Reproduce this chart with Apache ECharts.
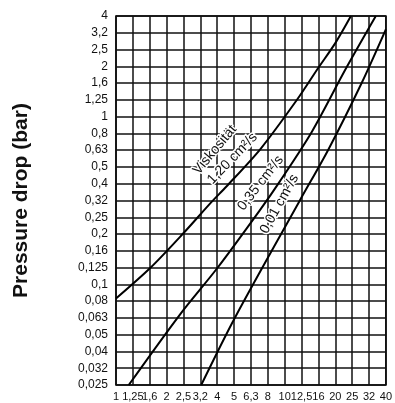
<!DOCTYPE html>
<html>
<head>
<meta charset="utf-8">
<script src="https://cdn.jsdelivr.net/npm/echarts@6/dist/echarts.min.js"></script>
<style>
html, body { margin: 0; padding: 0; background: #fff; }
#chart { width: 395px; height: 403px; }
</style>
</head>
<body>
<div id="chart"></div>
<script>
// tick labels (R10 series, evenly spaced on log scale)
var xLabels = ['1', '1,25', '1,6', '2', '2,5', '3,2', '4', '5', '6,3', '8', '10', '12,5', '16', '20', '25', '32', '40'];
var yLabels = ['0,025', '0,032', '0,04', '0,05', '0,063', '0,08', '0,1', '0,125', '0,16', '0,2', '0,25', '0,32',
    '0,4', '0,5', '0,63', '0,8', '1', '1,25', '1,6', '2', '2,5', '3,2', '4'];

// curves: flow / pressure drop (bar)
var flow120 = [1, 1.6, 2.5, 3.7, 4.5, 7.2, 11.8, 15.8, 20, 24.7];
var dp120 = [0.082, 0.125, 0.2, 0.31, 0.38, 0.64, 1.25, 1.94, 2.74, 3.96];

var flow035 = [1.19, 2.4, 4.0, 7.1, 9.3, 14.5, 22.9, 34.7];
var dp035 = [0.025, 0.066, 0.125, 0.274, 0.405, 0.81, 1.9, 3.96];

var flow001 = [3.2, 5.07, 12.3, 18.1, 28.6, 39.8];
var dp001 = [0.025, 0.063, 0.315, 0.63, 1.58, 3.3];

var curveNames = ['1,20 cm²/s', '0,35 cm²/s', '0,01 cm²/s'];

var Y0 = 0.025;
function xIdx(q) { return 10 * Math.log10(q); }
function yIdx(p) { return 10 * Math.log10(p / Y0); }
function toPoints(xs, ys) {
    return xs.map(function (q, i) { return [xIdx(q), yIdx(ys[i])]; });
}

var FONT = '"Liberation Sans", Arial, sans-serif';
// curve labels sit on a white halo, grid lines stop around them
var labelStyle = {
    show: true,
    position: 'inside',
    color: '#111',
    fontSize: 14,
    fontFamily: FONT,
    textBorderColor: '#fff',
    textBorderWidth: 3
};

function curve(name, pts, marks) {
    return {
        name: name,
        type: 'line',
        data: pts,
        symbol: 'none',
        smooth: 0.3,
        clip: true,
        lineStyle: { color: '#000', width: 2 },
        markPoint: {
            symbol: 'circle',
            symbolSize: 0,
            silent: true,
            label: labelStyle,
            data: marks
        }
    };
}

var chart = echarts.init(document.getElementById('chart'));
var option = {
    backgroundColor: '#fff',
    animation: false,
    grid: {
        left: 116, right: 9, top: 16, bottom: 18,
        show: true, borderColor: '#000', borderWidth: 1.6
    },
    xAxis: {
        type: 'value', min: 0, max: 16, interval: 1,
        axisLine: { show: false },
        axisTick: { show: false },
        splitLine: { show: true, lineStyle: { color: '#111', width: 1.5 } },
        axisLabel: {
            margin: 6, color: '#111', fontSize: 11, fontFamily: FONT,
            formatter: function (v) { return xLabels[Math.round(v)]; }
        }
    },
    yAxis: {
        type: 'value', min: 0, max: 22, interval: 1,
        name: 'Pressure drop (bar)',
        nameLocation: 'middle',
        nameGap: 84,
        nameTextStyle: {
            color: '#111', fontSize: 21, fontWeight: 'bold', fontFamily: FONT
        },
        axisLine: { show: false },
        axisTick: { show: false },
        splitLine: { show: true, lineStyle: { color: '#111', width: 1.5 } },
        axisLabel: {
            margin: 8, color: '#111', fontSize: 12, fontFamily: FONT,
            formatter: function (v) { return yLabels[Math.round(v)]; }
        }
    },
    series: [
        curve(curveNames[0], toPoints(flow120, dp120), [
            { coord: [xIdx(3.86), yIdx(0.63)], label: { formatter: 'Viskosität', rotate: 50 } },
            { coord: [xIdx(4.9), yIdx(0.56)], label: { formatter: curveNames[0], rotate: 46 } }
        ]),
        curve(curveNames[1], toPoints(flow035, dp035), [
            { coord: [xIdx(7.2), yIdx(0.40)], label: { formatter: curveNames[1], rotate: 52 } }
        ]),
        curve(curveNames[2], toPoints(flow001, dp001), [
            { coord: [xIdx(9.3), yIdx(0.30)], label: { formatter: curveNames[2], rotate: 61 } }
        ])
    ]
};
chart.setOption(option);
</script>
</body>
</html>
